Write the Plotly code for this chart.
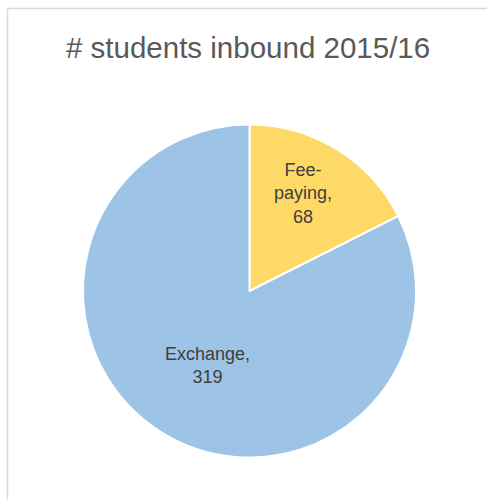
import plotly.graph_objects as go

categories = ["Fee-paying", "Exchange"]
values = [68, 319]
label_text = ["Fee-<br>paying,<br>68", "Exchange,<br>319"]
colors = ["#FFD966", "#9DC3E6"]

W, H = 487, 500
fig = go.Figure()
fig.add_trace(go.Pie(
    labels=categories, values=values, sort=False, direction="clockwise",
    rotation=0, textinfo="none", hoverinfo="label+value",
    marker=dict(colors=colors, line=dict(color="white", width=2)),
    domain=dict(x=[83 / W, 416 / W], y=[(H - 458) / H, (H - 124) / H]),
    showlegend=False,
))

label_pos = [(303, 193), (207, 365)]
for txt, (px, py) in zip(label_text, label_pos):
    fig.add_annotation(x=px / W, y=1 - py / H, xref="paper", yref="paper",
                       xanchor="center", yanchor="middle",
                       text=txt, showarrow=False,
                       font=dict(family="Liberation Sans", size=18, color="#404040"))

fig.add_annotation(x=247.5 / W, y=1 - 48 / H, xref="paper", yref="paper",
                   xanchor="center", yanchor="middle",
                   text="# students inbound 2015/16", showarrow=False,
                   font=dict(family="Liberation Sans", size=29.5, color="#595959"))

# chart-area border: only left and top edges are visible in the reference
fig.add_shape(type="line", xref="paper", yref="paper",
              x0=7.5 / W, x1=7.5 / W, y0=0, y1=1 - 8.5 / H,
              line=dict(color="#D9D9D9", width=1.5))
fig.add_shape(type="line", xref="paper", yref="paper",
              x0=7.5 / W, x1=1, y0=1 - 8.5 / H, y1=1 - 8.5 / H,
              line=dict(color="#D9D9D9", width=1.5))

fig.update_layout(width=W, height=H, margin=dict(l=0, r=0, t=0, b=0),
                  paper_bgcolor="white", plot_bgcolor="white")
fig.write_html(
    "out.html", config={"displayModeBar": False},
    post_script=("document.documentElement.style.margin='0';"
                 "document.documentElement.style.padding='0';"
                 "document.documentElement.style.overflow='hidden';"
                 "document.body.style.margin='0';document.body.style.padding='0';"
                 "document.body.style.overflow='hidden';"))
